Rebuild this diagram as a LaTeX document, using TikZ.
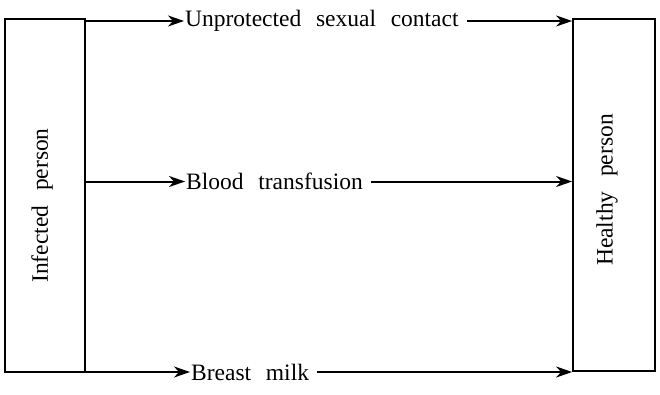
\documentclass[tikz,border=0pt]{standalone}
\usepackage{fontspec}
\setmainfont{Liberation Serif}[WordSpace=2.5]
\usetikzlibrary{arrows.meta}
\begin{document}
\begin{tikzpicture}[x=1pt,y=1pt,
  box/.style={draw,line width=1.8pt,minimum width=80pt,minimum height=353pt,inner sep=0pt},
  lbl/.style={font=\fontsize{23.5}{28}\selectfont,inner sep=0pt,anchor=west},
  vlbl/.style={font=\fontsize{23.5}{28}\selectfont,rotate=90,inner sep=0pt},
  arr/.style={line width=2pt,-{Stealth[length=16pt,width=11pt,inset=5pt]}}]
\useasboundingbox (0,0) rectangle (660,394);
\node[box] (L) at (45,198.5) {};
\node[box,minimum width=82pt,minimum height=352pt] (R) at (614,199) {};
\node[vlbl] (Lt) at (42,188.5) {Infected person};
\node[vlbl] (Rt) at (607,204) {Healthy person};
\node[lbl] (t1) at (185,373) {Unprotected sexual contact};
\node[lbl] (t2) at (186,212.5) {Blood transfusion};
\node[lbl] (t3) at (191,22) {Breast milk};
\draw[arr] (L.east |- t1) -- ([xshift=-1pt]t1.west);
\draw[arr] ([xshift=8pt]t1.east) -- (R.west |- t1);
\draw[arr] (L.east |- t2) -- ([xshift=-1pt]t2.west);
\draw[arr] ([xshift=8pt]t2.east) -- (R.west |- t2);
\draw[arr] (L.east |- t3) -- ([xshift=-1pt]t3.west);
\draw[arr] ([xshift=8pt]t3.east) -- (R.west |- t3);
\end{tikzpicture}
\end{document}
